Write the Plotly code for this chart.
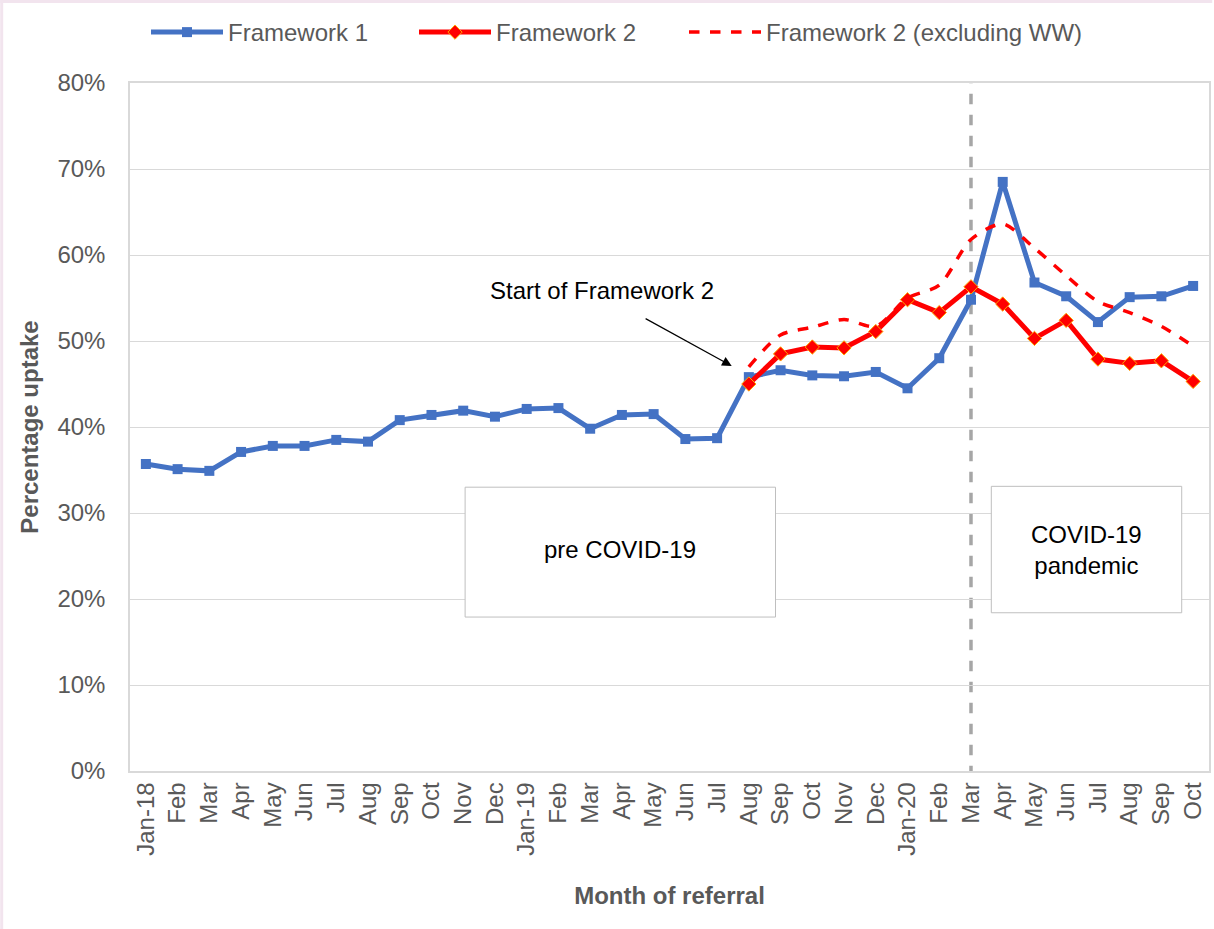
import plotly.graph_objects as go

months = ["Jan-18", "Feb", "Mar", "Apr", "May", "Jun", "Jul", "Aug", "Sep", "Oct", "Nov", "Dec",
          "Jan-19", "Feb", "Mar", "Apr", "May", "Jun", "Jul", "Aug", "Sep", "Oct", "Nov", "Dec",
          "Jan-20", "Feb", "Mar", "Apr", "May", "Jun", "Jul", "Aug", "Sep", "Oct"]

framework1 = [35.7, 35.1, 34.9, 37.1, 37.8, 37.8, 38.5, 38.3, 40.8, 41.4, 41.9, 41.2,
              42.1, 42.2, 39.8, 41.4, 41.5, 38.6, 38.7, 45.8, 46.6, 46.0, 45.9, 46.4,
              44.5, 48.0, 54.8, 68.5, 56.8, 55.2, 52.2, 55.1, 55.2, 56.4]

# Framework 2 starts in Aug-19 (index 19)
framework2 = [None] * 19 + [45.0, 48.5, 49.3, 49.2, 51.1, 54.8, 53.3, 56.3, 54.3, 50.3, 52.4,
                            47.9, 47.4, 47.7, 45.3]

framework2_ex_ww = [None] * 19 + [47.0, 50.7, 51.6, 52.5, 51.7, 55.0, 56.5, 61.8, 63.6, 60.8,
                                  57.6, 54.6, 53.3, 51.7, 49.4]

y_ticks = [0, 10, 20, 30, 40, 50, 60, 70, 80]

x = list(range(len(months)))
to_frac = lambda arr: [None if v is None else v / 100 for v in arr]

FONT = "Arial, 'Liberation Sans', sans-serif"
GREY = "#595959"

fig = go.Figure()
fig.add_trace(go.Scatter(
    x=x, y=to_frac(framework1), name="Framework 1", mode="lines+markers",
    line=dict(color="#4472C4", width=5),
    marker=dict(symbol="square", size=10, color="#4472C4"),
    legend="legend",
))
fig.add_trace(go.Scatter(
    x=x, y=to_frac(framework2), name="Framework 2", mode="lines+markers",
    line=dict(color="#FF0000", width=5),
    marker=dict(symbol="diamond", size=11, color="#FF0000", line=dict(color="#FFA500", width=1)),
    legend="legend2",
))
fig.add_trace(go.Scatter(
    x=x, y=to_frac(framework2_ex_ww), name="Framework 2 (excluding WW)", mode="lines",
    line=dict(color="#FF0000", width=3.5, dash="dash", shape="spline", smoothing=0.8),
    legend="legend3",
))

# Vertical dashed line at Mar-20
covid_idx = 26
fig.add_shape(type="line", xref="x", yref="y", x0=covid_idx, x1=covid_idx, y0=-0.006, y1=0.8,
              line=dict(color="#A6A6A6", width=3.5, dash="dash"), layer="below")

# Text boxes
fig.add_shape(type="rect", xref="x", yref="y", x0=10.06, x1=19.84, y0=0.179, y1=0.330,
              line=dict(color="#BFBFBF", width=1), fillcolor="white", layer="above")
fig.add_shape(type="rect", xref="x", yref="y", x0=26.64, x1=32.64, y0=0.184, y1=0.331,
              line=dict(color="#BFBFBF", width=1), fillcolor="white", layer="above")

fig.add_annotation(x=(10.06 + 19.84) / 2, y=0.257, xref="x", yref="y", text="pre COVID-19",
                   showarrow=False, font=dict(family=FONT, size=24, color="#000000"))
fig.add_annotation(x=(26.64 + 32.64) / 2, y=0.257, xref="x", yref="y", text="COVID-19<br>pandemic",
                   showarrow=False, font=dict(family=FONT, size=24, color="#000000"))

# Start of Framework 2 annotation
fig.add_annotation(x=14.37, y=0.559, xref="x", yref="y", text="Start of Framework 2",
                   showarrow=False, font=dict(family=FONT, size=24, color="#000000"))
fig.add_annotation(x=18.46, y=0.471, xref="x", yref="y", ax=15.7, ay=0.527, axref="x", ayref="y",
                   text="", showarrow=True, arrowhead=2, arrowsize=1.6, arrowwidth=1.2,
                   arrowcolor="#000000")

# pink frame edges
fig.add_shape(type="rect", xref="paper", yref="paper", x0=-0.1203, x1=-0.1203 + 3 / 1081,
              y0=1.1206 - 929 / 688, y1=1.1206, line=dict(width=0), fillcolor="#F2E4EE")
fig.add_shape(type="rect", xref="paper", yref="paper", x0=-0.1203, x1=1.003,
              y0=1.1206 - 3 / 688, y1=1.1206, line=dict(width=0), fillcolor="#F2E4EE")

legend_common = dict(orientation="h", xref="container", yref="container", y=0.965,
                     xanchor="left", yanchor="middle", font=dict(size=24, color=GREY),
                     itemwidth=72, bgcolor="rgba(0,0,0,0)")

fig.update_layout(
    width=1214, height=929,
    margin=dict(l=130, r=3, t=83, b=158),
    paper_bgcolor="white", plot_bgcolor="white",
    font=dict(family=FONT, color=GREY),
    showlegend=True,
    legend=dict(x=146 / 1214, **legend_common),
    legend2=dict(x=414 / 1214, **legend_common),
    legend3=dict(x=684 / 1214, **legend_common),
    xaxis=dict(
        tickmode="array", tickvals=x, ticktext=months, tickangle=-90,
        range=[-0.5, len(months) - 0.5],
        tickfont=dict(size=24, color=GREY),
        showgrid=False, showline=True, linecolor="#D9D9D9", linewidth=1.5, mirror=True,
        ticks="", zeroline=False,
        title=dict(text="<b>Month of referral</b>", font=dict(size=24, color=GREY), standoff=32),
    ),
    yaxis=dict(
        range=[0, 0.8], tickvals=[v / 100 for v in y_ticks], tickformat=".0%",
        tickfont=dict(size=24, color=GREY),
        showgrid=True, gridcolor="#D9D9D9", gridwidth=1,
        showline=True, linecolor="#D9D9D9", linewidth=1.5, mirror=True,
        ticks="", zeroline=False, ticklabelstandoff=18,
        title=dict(text="<b>Percentage uptake</b>", font=dict(size=24, color=GREY), standoff=12),
    ),
)

fig.write_html("out.html", config={"displayModeBar": False},
               post_script="document.body.style.margin='0';")
